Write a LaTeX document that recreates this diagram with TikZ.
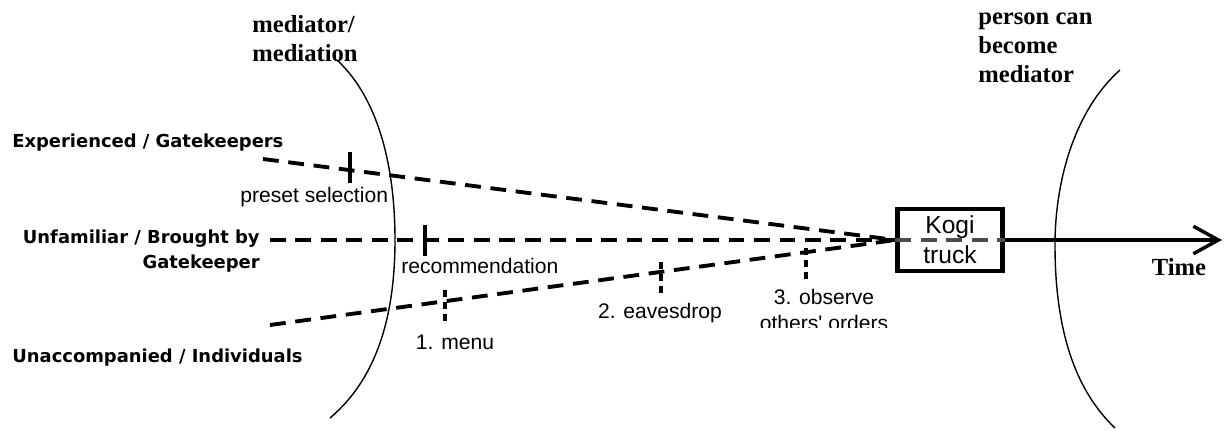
\documentclass[tikz,border=0pt]{standalone}
\usepackage{fontspec}
\setmainfont{Liberation Serif}
\newfontfamily\arialfont{Liberation Sans}
\newfontfamily\verdfont{DejaVu Sans}
\usetikzlibrary{arrows.meta}

\begin{document}
\begin{tikzpicture}[x=0.02cm,y=-0.02cm,
  lane/.style={line width=2.2pt,dash pattern=on 9pt off 5.5pt},
  solidtick/.style={line width=2.8pt},
  dashtick/.style={line width=2.8pt,dash pattern=on 4pt off 2.8pt},
  lbl/.style={font=\arialfont\fontsize{12}{14.5}\selectfont,inner sep=0pt},
  grp/.style={font=\verdfont\bfseries\fontsize{10.2}{14}\selectfont,inner sep=0pt},
  head/.style={font=\bfseries\fontsize{14}{16.5}\selectfont,inner sep=0pt,align=left}]
  \useasboundingbox (0,0) rectangle (1225,430);

  % the two boundaries
  \draw[line width=0.8pt] (337,60) .. controls (380,100) and (395,170) .. (395,240)
    .. controls (395,320) and (375,380) .. (330,418);
  \draw[line width=0.8pt] (1120,70) .. controls (1075,110) and (1055,180) .. (1055,245)
    .. controls (1055,330) and (1075,390) .. (1115,428);
  \node[head,anchor=base west] (medlbl) at (252,61) {mediator/\\mediation};
  \node[head,anchor=base west] (becomelbl) at (978,82) {person can\\become\\mediator};

  % groups
  \node[grp,anchor=base west] (explbl) at (12,147) {Experienced / Gatekeepers};
  \node[grp,anchor=base east,align=right] (unflbl) at (260,268) {Unfamiliar / Brought by\\Gatekeeper};
  \node[grp,anchor=base west] (unalbl) at (12,362) {Unaccompanied / Individuals};
  \coordinate (exp) at (263,159);
  \coordinate (unf) at (270,240);
  \coordinate (una) at (270,325);

  \node[draw,line width=2.3pt,minimum width=2.1cm,minimum height=1.24cm,inner sep=0pt,
    align=center,font=\arialfont\fontsize{14}{17}\selectfont] (kogi) at (950,240) {Kogi\\truck};
  \coordinate (tend) at (1222,240);

  \draw[lane] (exp) -- (kogi.west);
  \draw[lane] (unf) -- (kogi.west);
  \draw[lane] (una) -- (kogi.west);
  \draw[lane,gray!60!black] (kogi.west) -- (kogi.east);
  \draw[line width=2pt,-{Straight Barb[length=0.5cm,width=0.55cm]}] (kogi.east) -- (tend);
  \node[head,anchor=base] (timelbl) at (1179,275) {Time};

  % steps along the lanes
  \draw[solidtick] (350,152) -- (350,183);
  \node[lbl,anchor=base west] (presetlbl) at (240,202) {preset selection};
  \draw[solidtick] (425,225) -- (425,256);
  \node[lbl,anchor=base west] (reclbl) at (401,273) {recommendation};
  \draw[dashtick] (445,290) -- (445,321);
  \node[lbl,anchor=base] (menulbl) at (455,349) {1. menu};
  \draw[dashtick] (661,262) -- (661,293);
  \node[lbl,anchor=base] (eavlbl) at (660,318) {2. eavesdrop};
  \draw[dashtick] (806,248) -- (806,279);
  \begin{scope}
    \clip (740,280) rectangle (900,327);
    \node[lbl,anchor=base,align=center] (obslbl) at (824,330) {3. observe\\others' orders};
  \end{scope}
\end{tikzpicture}
\end{document}
